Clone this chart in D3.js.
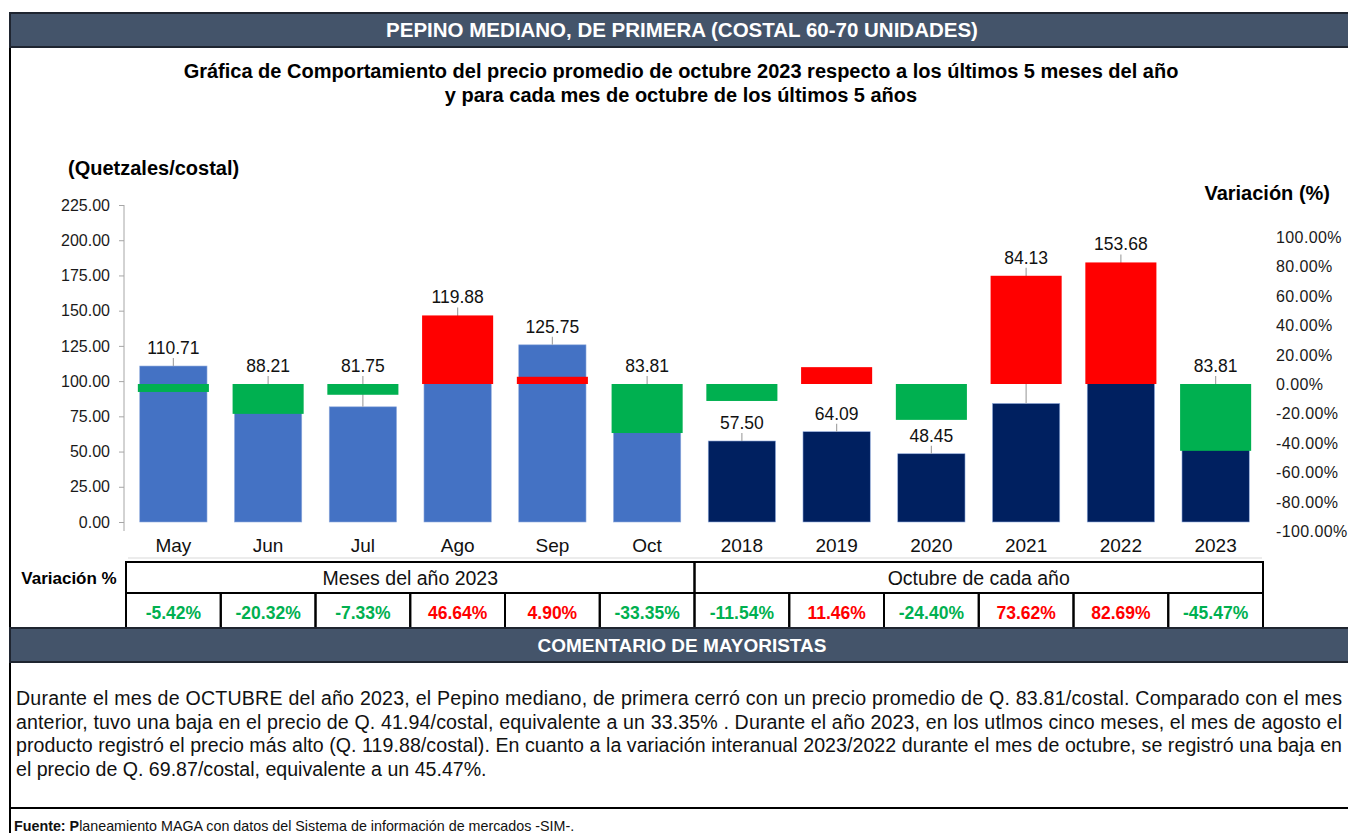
<!DOCTYPE html>
<html>
<head>
<meta charset="utf-8">
<script src="https://cdn.jsdelivr.net/npm/d3@7"></script>
<style>
  body { margin: 0; background: #fff; }
  svg { display: block; font-family: "Liberation Sans", Arial, sans-serif; }
</style>
</head>
<body>
<svg id="chart" width="1348" height="833"></svg>
<script>
// chart data
const categories = ["May", "Jun", "Jul", "Ago", "Sep", "Oct", "2018", "2019", "2020", "2021", "2022", "2023"];
const prices = [110.71, 88.21, 81.75, 119.88, 125.75, 83.81, 57.50, 64.09, 48.45, 84.13, 153.68, 83.81];
const variations = [-5.42, -20.32, -7.33, 46.64, 4.90, -33.35, -11.54, 11.46, -24.40, 73.62, 82.69, -45.47];
const groups = ["mes", "mes", "mes", "mes", "mes", "mes", "anio", "anio", "anio", "anio", "anio", "anio"];
const groupNames = ["Meses del año 2023", "Octubre de cada año"];
const leftTicks = [0, 25, 50, 75, 100, 125, 150, 175, 200, 225];
const rightTicks = [-100, -80, -60, -40, -20, 0, 20, 40, 60, 80, 100];

const commentLines = [
    "Durante el mes de OCTUBRE del año 2023, el Pepino mediano, de primera cerró con un precio promedio de Q. 83.81/costal. Comparado con el mes",
    "anterior, tuvo una baja en el precio de Q. 41.94/costal, equivalente a un 33.35% . Durante el año 2023, en los utlmos cinco meses, el mes de agosto el",
    "producto registró el precio más alto (Q. 119.88/costal). En cuanto a la variación interanual 2023/2022 durante el mes de octubre, se registró una baja en",
    "el precio de Q. 69.87/costal, equivalente a un 45.47%."
];

const headerColor = "#44546A";
const barColor = { mes: "#4472C4", anio: "#002060" };
const upColor = "#FF0000";
const downColor = "#00B050";

// plain hyphen for negatives, as in the sheet
const locale = d3.formatLocale({ decimal: ".", thousands: ",", grouping: [3], currency: ["", ""], minus: "-" });
const fmt2 = locale.format(".2f");

var svg = d3.select("#chart");

// scales
var x = d3.scaleBand().domain(categories).range([126, 1263]).padding(0);
var yLeft = d3.scaleLinear().domain([0, 225]).range([522, 205]);
var yRight = d3.scaleLinear().domain([-100, 100]).range([531, 237]);
const barW = x.bandwidth() * 0.71;
const varW = x.bandwidth() * 0.75;

// outer frame + header
svg.append("line").attr("x1", 10).attr("x2", 10).attr("y1", 13).attr("y2", 833)
    .attr("stroke", "#000").attr("stroke-width", 2);

function headerBar(y0, h, label, size) {
    svg.append("rect")
        .attr("x", 10).attr("y", y0).attr("width", 1340).attr("height", h)
        .attr("fill", headerColor).attr("stroke", "#1f2530").attr("stroke-width", 2);
    svg.append("text")
        .attr("x", 682).attr("y", y0 + h / 2 + 7)
        .attr("text-anchor", "middle")
        .attr("fill", "#fff").attr("font-weight", "bold").attr("font-size", size)
        .text(label);
}
headerBar(13, 34, "PEPINO MEDIANO, DE PRIMERA (COSTAL 60-70 UNIDADES)", 20.5);

// titles
svg.append("text").attr("x", 681).attr("y", 78).attr("text-anchor", "middle")
    .attr("font-weight", "bold").attr("font-size", 20)
    .text("Gráfica de Comportamiento del precio promedio de octubre 2023 respecto a los últimos 5 meses del año");
svg.append("text").attr("x", 681).attr("y", 102).attr("text-anchor", "middle")
    .attr("font-weight", "bold").attr("font-size", 20)
    .text("y para cada mes de octubre de los últimos 5 años");

svg.append("text").attr("x", 68).attr("y", 175)
    .attr("font-weight", "bold").attr("font-size", 20).text("(Quetzales/costal)");
svg.append("text").attr("x", 1330).attr("y", 200).attr("text-anchor", "end")
    .attr("font-weight", "bold").attr("font-size", 20).text("Variación (%)");

// left axis
var leftAxis = svg.append("g")
    .attr("transform", "translate(124,0)")
    .call(d3.axisLeft(yLeft).tickValues(leftTicks).tickFormat(fmt2).tickSize(5).tickPadding(9));
leftAxis.select(".domain").attr("stroke", "#A6A6A6").attr("d", "M0,205V531");
leftAxis.selectAll(".tick line").attr("stroke", "#A6A6A6");
leftAxis.selectAll(".tick text").attr("font-size", 16).attr("fill", "#1a1a1a")
    .attr("font-family", "Liberation Sans, Arial, sans-serif");

// right axis (labels only)
svg.append("g").selectAll("text")
    .data(rightTicks)
    .enter().append("text")
    .attr("x", 1276)
    .attr("y", function(d) { return yRight(d) + 6; })
    .attr("font-size", 16).attr("letter-spacing", 0.4).attr("fill", "#1a1a1a")
    .text(function(d) { return fmt2(d) + "%"; });

// price bars
svg.append("g").selectAll("rect")
    .data(categories)
    .enter().append("rect")
    .attr("x", function(d) { return x(d) + (x.bandwidth() - barW) / 2; })
    .attr("y", function(d, i) { return yLeft(prices[i]); })
    .attr("width", barW)
    .attr("height", function(d, i) { return yLeft(0) - yLeft(prices[i]); })
    .attr("fill", function(d, i) { return barColor[groups[i]]; })
    .attr("stroke", "#8faadc").attr("stroke-width", 0.6);

// label goes above the price bar when it sits clear of the variation bar,
// otherwise above whichever of the two is higher
function labelTop(i) {
    var pTop = yLeft(prices[i]);
    var a = yRight(0), b = yRight(variations[i]);
    var vTop = Math.min(a, b), vBottom = Math.max(a, b);
    if (pTop - vBottom >= 30)
        return pTop;
    return Math.min(pTop, vTop);
}

// leader lines
svg.append("g").selectAll("line")
    .data(categories)
    .enter().append("line")
    .attr("x1", function(d) { return x(d) + x.bandwidth() / 2; })
    .attr("x2", function(d) { return x(d) + x.bandwidth() / 2; })
    .attr("y1", function(d, i) { return labelTop(i) - 8; })
    .attr("y2", function(d, i) { return Math.max(yLeft(prices[i]), labelTop(i) - 8); })
    .attr("stroke", "#A6A6A6").attr("stroke-width", 1.2);

// variation bars
svg.append("g").selectAll("rect")
    .data(categories)
    .enter().append("rect")
    .attr("x", function(d) { return x(d) + (x.bandwidth() - varW) / 2; })
    .attr("y", function(d, i) { return yRight(Math.max(0, variations[i])); })
    .attr("width", varW)
    .attr("height", function(d, i) { return Math.abs(yRight(variations[i]) - yRight(0)); })
    .attr("fill", function(d, i) { return variations[i] < 0 ? downColor : upColor; });

// price labels
svg.append("g").selectAll("text")
    .data(categories)
    .enter().append("text")
    .attr("x", function(d) { return x(d) + x.bandwidth() / 2; })
    .attr("y", function(d, i) { return labelTop(i) - 12; })
    .attr("text-anchor", "middle")
    .attr("font-size", 17.5).attr("fill", "#111")
    .text(function(d, i) { return fmt2(prices[i]); });

// category labels
svg.append("g").selectAll("text")
    .data(categories)
    .enter().append("text")
    .attr("x", function(d) { return x(d) + x.bandwidth() / 2; })
    .attr("y", 552)
    .attr("text-anchor", "middle")
    .attr("font-size", 19).attr("fill", "#111")
    .text(function(d) { return d; });

svg.append("line").attr("x1", 128).attr("x2", 1262).attr("y1", 558).attr("y2", 558)
    .attr("stroke", "#D9D9D9");

// variation table
const t0 = 562, t1 = 593, t2 = 628;
var table = svg.append("g");
table.append("text")
    .attr("x", 69).attr("y", 584).attr("text-anchor", "middle")
    .attr("font-weight", "bold").attr("font-size", 17).text("Variación %");

groupNames.forEach(function(name, g) {
    var cats = categories.slice(g * 6, g * 6 + 6);
    var gx0 = x(cats[0]), gx1 = x(cats[5]) + x.bandwidth();
    table.append("rect")
        .attr("x", gx0).attr("y", t0).attr("width", gx1 - gx0).attr("height", t1 - t0)
        .attr("fill", "none").attr("stroke", "#000").attr("stroke-width", 2);
    table.append("text")
        .attr("x", (gx0 + gx1) / 2).attr("y", t0 + 23)
        .attr("text-anchor", "middle").attr("font-size", 19.5).attr("fill", "#111")
        .text(name);
});

table.selectAll(".cell")
    .data(categories)
    .enter().append("rect")
    .attr("class", "cell")
    .attr("x", function(d) { return x(d); })
    .attr("y", t1)
    .attr("width", x.bandwidth())
    .attr("height", t2 - t1)
    .attr("fill", "none").attr("stroke", "#000").attr("stroke-width", 2);

table.selectAll(".val")
    .data(categories)
    .enter().append("text")
    .attr("class", "val")
    .attr("x", function(d) { return x(d) + x.bandwidth() / 2; })
    .attr("y", 619)
    .attr("text-anchor", "middle")
    .attr("font-weight", "bold").attr("font-size", 17.5)
    .attr("fill", function(d, i) { return variations[i] < 0 ? downColor : upColor; })
    .text(function(d, i) { return fmt2(variations[i]) + "%"; });

// comments
headerBar(628, 34, "COMENTARIO DE MAYORISTAS", 19);

var comment = svg.append("g");
commentLines.forEach(function(line, i) {
    var t = comment.append("text")
        .attr("x", 16).attr("y", 705 + i * 23.7)
        .attr("font-size", 19.6).attr("fill", "#111")
        .text(line);
    // justified lines, last one left ragged
    if (i < commentLines.length - 1)
        t.attr("textLength", 1326).attr("lengthAdjust", "spacing");
});

svg.append("line").attr("x1", 10).attr("x2", 1348).attr("y1", 808).attr("y2", 808)
    .attr("stroke", "#000").attr("stroke-width", 2);

var fuente = svg.append("text")
    .attr("x", 14).attr("y", 831).attr("font-size", 14.3).attr("fill", "#111");
fuente.append("tspan").attr("font-weight", "bold").text("Fuente: P");
fuente.append("tspan").text("laneamiento MAGA con datos del Sistema de información de mercados -SIM-.");
</script>
</body>
</html>
